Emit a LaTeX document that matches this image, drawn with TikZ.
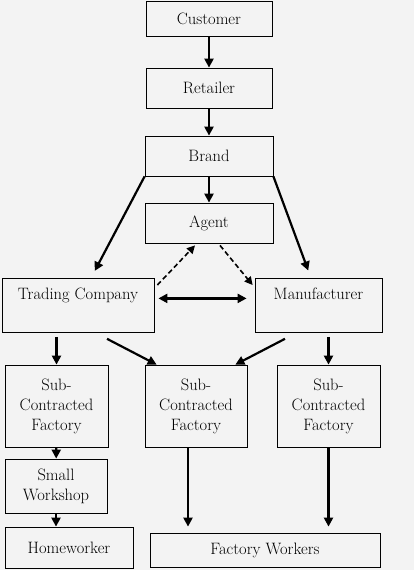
\documentclass[tikz,border=0pt]{standalone}
\usetikzlibrary{arrows.meta}
\definecolor{paper}{RGB}{243,243,243}

\begin{document}
\begin{tikzpicture}[x=1pt,y=1pt,
  box/.style={draw,line width=0.8pt,fill=paper,inner sep=0pt,align=center,
    font=\fontsize{16.5}{20}\selectfont},
  arr/.style={-{Triangle[length=9pt,width=9pt]},line width=2.2pt},
  dasharr/.style={-{Triangle[length=8pt,width=8pt]},line width=1.6pt,dash pattern=on 5pt off 3pt}]
\fill[paper] (0,0) rectangle (414,-570);
\useasboundingbox (0,0) rectangle (414,-570);
% top of the chain
\node[box,minimum width=126,minimum height=35] (customer) at (209,-18.5) {Customer};
\node[box,minimum width=126,minimum height=40] (retailer) at (209,-88) {Retailer};
\node[box,minimum width=128,minimum height=40] (brand) at (209,-156) {Brand};
\node[box,minimum width=128,minimum height=40] (agent) at (209,-223) {Agent};
% middle row
\node[box,minimum width=152,inner ysep=6pt,text height=15pt,text depth=27pt,anchor=north] (trading) at (78,-278) {Trading Company};
\node[box,minimum width=127,inner ysep=6pt,text height=15pt,text depth=27pt,anchor=north] (manuf) at (318.5,-278) {Manufacturer};
% factories
\node[box,minimum width=103,minimum height=82] (scfa) at (56.5,-406) {Sub-\\Contracted\\Factory};
\node[box,minimum width=102,minimum height=82] (scfb) at (196,-406) {Sub-\\Contracted\\Factory};
\node[box,minimum width=103,minimum height=82] (scfc) at (328.5,-406) {Sub-\\Contracted\\Factory};
\node[box,minimum width=102,minimum height=54] (shop) at (56,-486) {Small\\Workshop};
\node[box,minimum width=128,minimum height=41] (home) at (69,-547.5) {Homeworker};
\node[box,minimum width=230,minimum height=34] (workers) at (265,-550) {Factory Workers};

\draw[arr] (customer) -- (retailer);
\draw[arr] (retailer) -- (brand);
\draw[arr] (brand) -- (agent);
\draw[arr,shorten >=8pt] (brand.south west) -- ([xshift=13pt]trading.north);
\draw[arr,shorten >=8pt] (brand.south east) -- ([xshift=-7.5pt]manuf.north);
\draw[dasharr] ([shift={(3,-7)}]trading.north east) -- ([shift={(-14,-2)}]agent.south);
\draw[dasharr] ([shift={(11,-2)}]agent.south) -- ([shift={(-2,-7)}]manuf.north west);
\draw[arr,{Triangle[length=9pt,width=9pt]}-{Triangle[length=9pt,width=9pt]}] ([shift={(4,7)}]trading.east) -- ([shift={(-8,7)}]manuf.west);

\draw[arr,shorten <=4pt] (scfa.north |- trading.south) -- (scfa.north);
\draw[arr] ([shift={(29,-6)}]trading.south) -- ([xshift=12pt]scfb.north west);
\draw[arr] ([shift={(-33.5,-6)}]manuf.south) -- ([xshift=-12pt]scfb.north east);
\draw[arr,shorten <=4pt] (scfc.north |- manuf.south) -- (scfc.north);

\draw[arr] (scfa) -- (shop);
\draw[arr] (shop.south) -- (shop.south |- home.north);
\draw[arr,shorten >=6pt] ([xshift=-8pt]scfb.south) -- ([xshift=-8pt]scfb.south |- workers.north);
\draw[arr,shorten >=6pt] (scfc.south) -- (scfc.south |- workers.north);
\end{tikzpicture}
\end{document}
